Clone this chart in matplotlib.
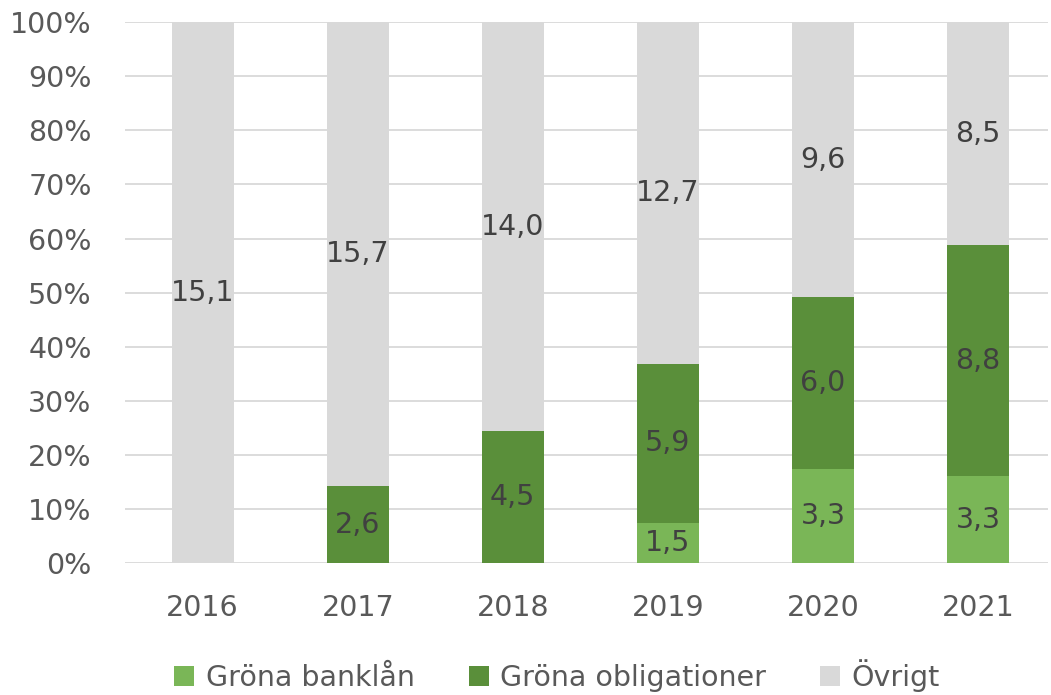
import numpy as np
import matplotlib.pyplot as plt

years = ['2016', '2017', '2018', '2019', '2020', '2021']
bank_loans = np.array([0.0, 0.0, 0.0, 1.5, 3.3, 3.3])
green_bonds = np.array([0.0, 2.6, 4.5, 5.9, 6.0, 8.8])
other = np.array([15.1, 15.7, 14.0, 12.7, 9.6, 8.5])

series = [
    ('Gröna banklån', bank_loans, '#7ab657'),
    ('Gröna obligationer', green_bonds, '#5a8f3a'),
    ('Övrigt', other, '#d9d9d9'),
]

total = bank_loans + green_bonds + other
x = np.arange(len(years))
fs = 20.5

fig = plt.figure(figsize=(10.51, 6.95), dpi=100)
ax = fig.add_axes([0.119, 0.19, 0.878, 0.778])

bottom = np.zeros(len(years))
for name, vals, col in series:
    share = vals / total * 100
    ax.bar(x, share, width=0.4, bottom=bottom, color=col, label=name, zorder=2)
    for i in range(len(years)):
        if vals[i] > 0:
            ax.text(x[i], bottom[i] + share[i] / 2, f'{vals[i]:.1f}'.replace('.', ','),
                    ha='center', va='center', fontsize=fs, color='#404040', zorder=3)
    bottom += share

ax.set_xlim(-0.5, 5.45)
ax.set_ylim(0, 100)
ax.set_yticks(np.arange(0, 101, 10))
ax.set_yticklabels([f'{v}%' for v in range(0, 101, 10)])
ax.set_xticks(x)
ax.set_xticklabels(years)
ax.tick_params(axis='both', length=0, labelsize=fs, labelcolor='#595959')
ax.tick_params(axis='y', pad=24)
ax.tick_params(axis='x', pad=22)
ax.grid(axis='y', color='#d9d9d9', linewidth=1.3, zorder=0)
for s in ax.spines.values():
    s.set_visible(False)

leg = ax.legend(loc='upper center', bbox_to_anchor=(0.468, -0.13), ncol=3, frameon=False,
                fontsize=fs, handlelength=0.7, handleheight=0.7, handletextpad=0.4,
                columnspacing=1.9)
for t in leg.get_texts():
    t.set_color('#595959')

fig.savefig('out.png', dpi=100)
